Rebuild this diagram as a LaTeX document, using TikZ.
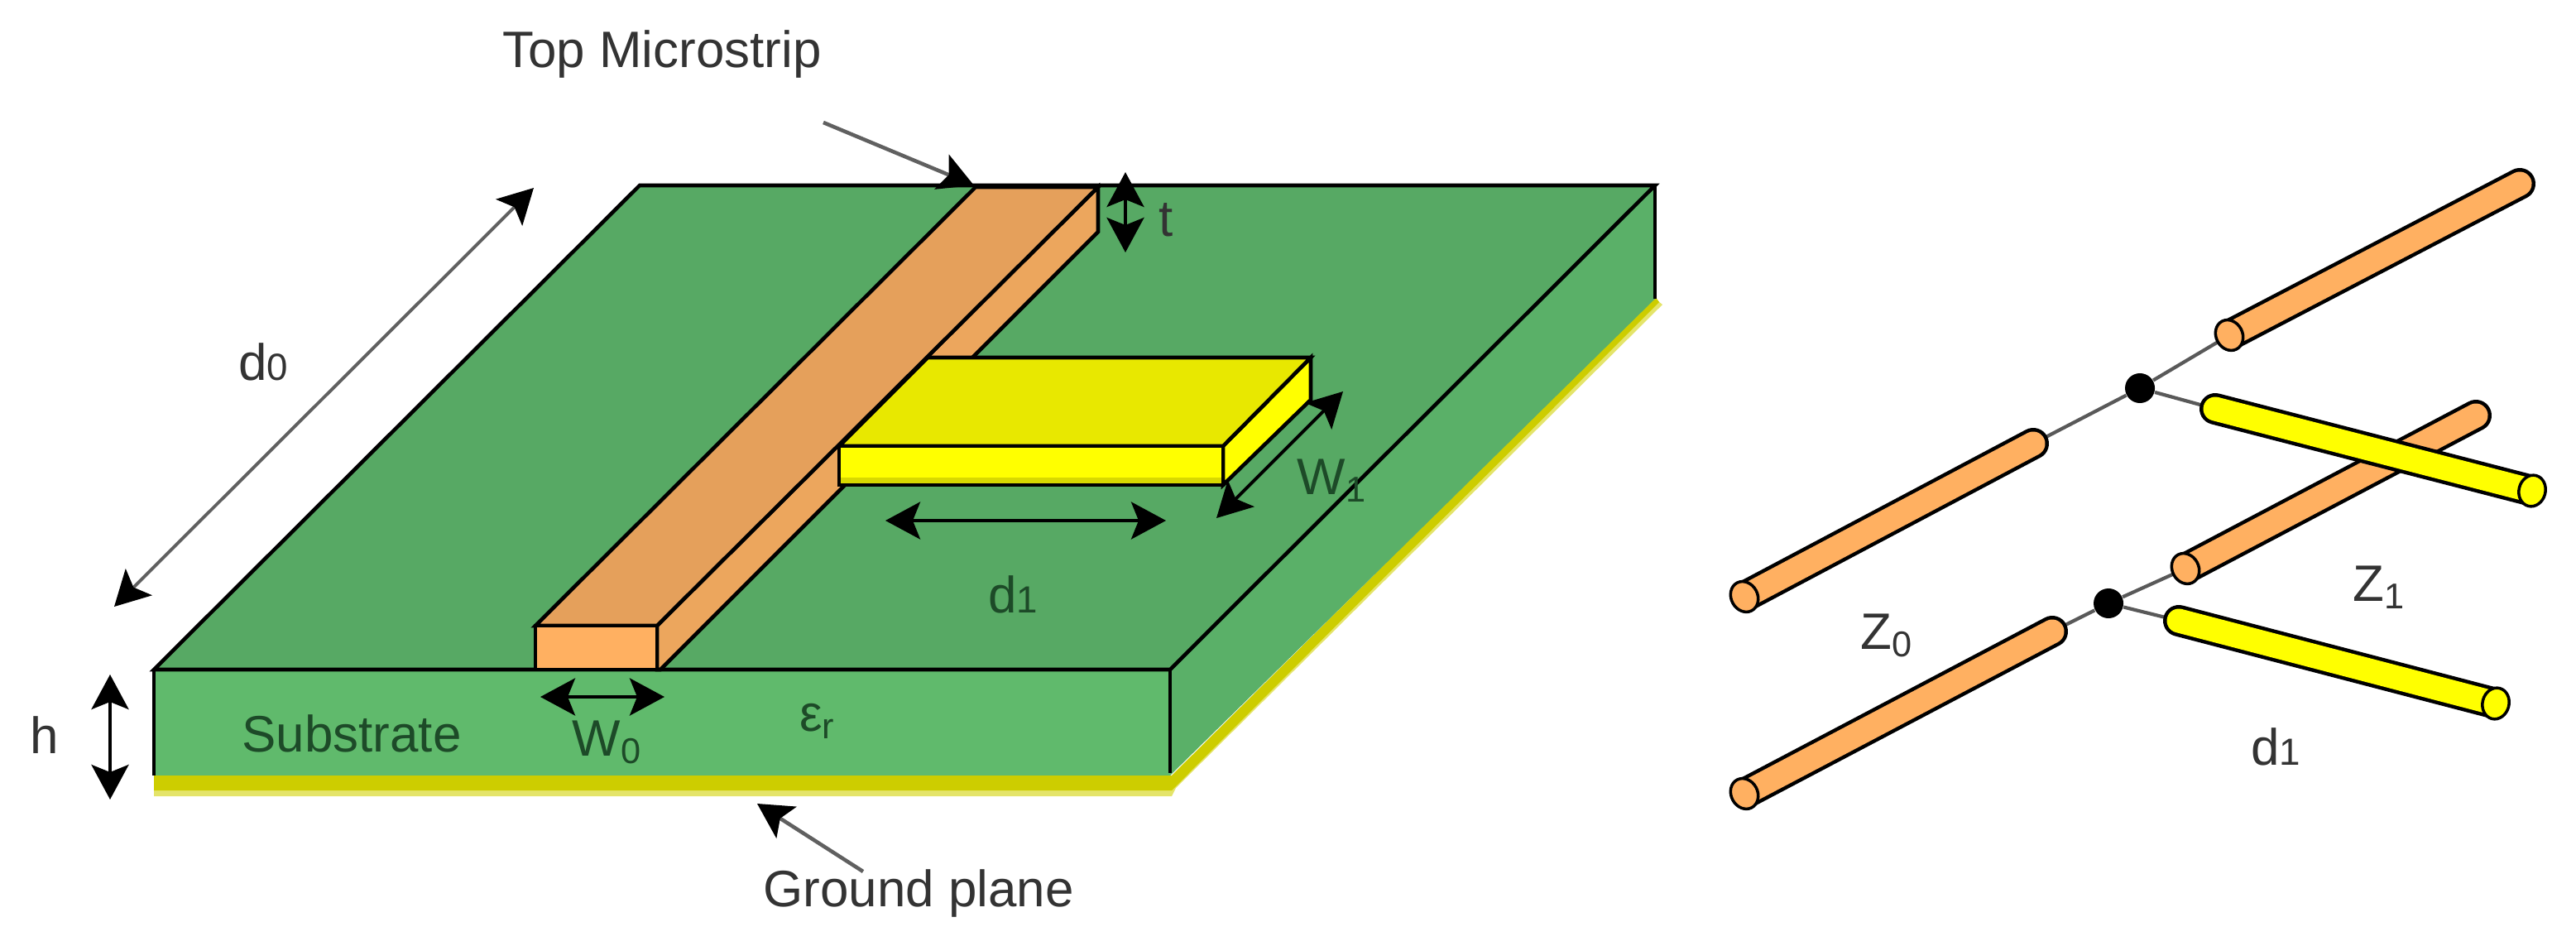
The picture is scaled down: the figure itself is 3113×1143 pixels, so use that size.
\documentclass[tikz,border=0pt]{standalone}
\usepackage{fontspec}
\setmainfont{Liberation Sans}
\usetikzlibrary{arrows.meta,positioning,shapes.geometric}

\definecolor{boardtop}{HTML}{57A964}
\definecolor{boardfront}{HTML}{60BA6C}
\definecolor{boardside}{HTML}{5AB068}
\definecolor{groundcol}{HTML}{CDCD00}
\definecolor{groundpale}{HTML}{E4E46A}
\definecolor{striptop}{HTML}{E5A05B}
\definecolor{stripfront}{HTML}{FFB061}
\definecolor{stripside}{HTML}{ECA65D}
\definecolor{patchtop}{HTML}{E8E800}
\definecolor{patchfront}{HTML}{FFFF00}
\definecolor{patchdark}{HTML}{D8D800}
\definecolor{boardtext}{HTML}{1D4A28}
\definecolor{plaintext}{HTML}{333333}

\tikzset{
  lbl/.style={font=\fontsize{17.6}{20}\selectfont, text=plaintext, inner sep=0pt},
  lblgreen/.style={lbl, text=boardtext},
  solid3d/.style={draw=black, line width=1.3pt, line join=miter},
  dimarrow/.style={{Stealth[length=.42cm,width=.45cm,inset=.09cm,black]}-{Stealth[length=.42cm,width=.45cm,inset=.09cm,black]}, line width=1.1pt, black},
  leader/.style={-{Stealth[length=.42cm,width=.45cm,inset=.09cm,black]}, line width=1.3pt, draw=gray!75!black},
  wire/.style={draw=gray!70!black, line width=1.2pt},
  junction/.style={circle, fill=black, minimum size=.36cm, inner sep=0pt},
  tubecap/.style={ellipse, draw=black, line width=1pt, minimum width=.32cm, minimum height=.38cm, inner sep=0pt},
}

% name, cap end, far end, colour, angle
\newcommand{\tube}[5]{
  \draw[black, line width=.38cm, line cap=round, shorten <=.04cm] (#2) -- (#3);
  \draw[#4, line width=.29cm, line cap=round, shorten <=.04cm] (#2) -- (#3);
  \node[tubecap, fill=#4, rotate=#5] (#1) at (#2) {};
}
\newcommand{\lowdigit}[1]{{\fontsize{13}{13}\selectfont #1}}

\begin{document}
\begin{tikzpicture}[x=.01cm,y=-.01cm]
\useasboundingbox (0,0) rectangle (3113,1143);

% ground plane
\fill[groundpale] (186,937) -- (1416,937) -- (2000,361) -- (2009,368) -- (1421,952) -- (1416,962) -- (186,962) -- cycle;
\fill[groundcol] (186,937) -- (1416,937) -- (2000,358) -- (2005,365) -- (1416,955) -- (186,955) -- cycle;

% substrate
\fill[boardside] (1414,809) -- (2000,224) -- (2000,361) -- (1414,937) -- cycle;
\fill[boardfront] (186,809) rectangle (1414,937);
\filldraw[solid3d, fill=boardtop] (773,224) -- (2000,224) -- (1414,809) -- (186,809) -- cycle;
\draw[solid3d] (186,809) -- (186,937);
\draw[solid3d] (1414,809) -- (1414,934);
\draw[solid3d] (2000,224) -- (2000,361);

% top microstrip
\filldraw[solid3d, fill=stripside] (794,756) -- (1327,226) -- (1327,280) -- (798,809) -- (794,809) -- cycle;
\filldraw[solid3d, fill=striptop] (647,756) -- (1179,226) -- (1327,226) -- (794,756) -- cycle;
\filldraw[solid3d, fill=stripfront] (647,756) rectangle (794,809);

% yellow stub
\filldraw[solid3d, fill=patchfront] (1478,539) -- (1584,432) -- (1584,483) -- (1478,586) -- cycle;
\filldraw[solid3d, fill=patchtop] (1014,539) -- (1121,432) -- (1584,432) -- (1478,539) -- cycle;
\fill[patchfront] (1014,539) rectangle (1478,586);
\fill[patchdark] (1014,577) rectangle (1478,586);
\draw[solid3d] (1014,539) rectangle (1478,586);

% dimension ends
\coordinate (d0a) at (645,227);
\coordinate (d0b) at (138,733);
\coordinate (topa) at (995,148);
\coordinate (topb) at (1177,224);
\coordinate (ta) at (1360,208);
\coordinate (tb) at (1360,305);
\coordinate (ha) at (133,815);
\coordinate (hb) at (133,966);
\coordinate (w0a) at (653,842);
\coordinate (w0b) at (803,842);
\coordinate (d1a) at (1070,629);
\coordinate (d1b) at (1409,629);
\coordinate (w1a) at (1623,473);
\coordinate (w1b) at (1470,626);
\coordinate (gnda) at (1043,1053);
\coordinate (gndb) at (915,971);

\draw[dimarrow, draw=gray!75!black] (d0a) -- (d0b);
\draw[leader] (topa) -- (topb);
\draw[dimarrow] (ta) -- (tb);
\draw[dimarrow] (ha) -- (hb);
\draw[dimarrow] (w0a) -- (w0b);
\draw[dimarrow] (d1a) -- (d1b);
\draw[dimarrow] (w1a) -- (w1b);
\draw[leader] (gnda) -- (gndb);

% labels, left part
\node[lbl] (toplbl) at (800,66) {Top Microstrip};
\node[lbl] (d0lbl) at (318,437) {d\lowdigit{0}};
\node[lbl] (tlbl) at (1409,266) {t};
\node[lbl] (hlbl) at (54,888) {h};
\node[lblgreen] (sublbl) at (425,886) {Substrate};
\node[lblgreen] (w0lbl) at (734,897) {W$_{\mathrm{0}}$};
\node[lblgreen] (erlbl) at (988,871) {ε$_{\mathrm{r}}$};
\node[lblgreen] (d1lbl) at (1224,718) {d\lowdigit{1}};
\node[lblgreen] (w1lbl) at (1610,581) {W$_{\mathrm{1}}$};
\node[lbl] (gndlbl) at (1110,1079) {Ground plane};

% transmission line model
\node[junction] (jn1) at (2586,469) {};
\node[junction] (jn2) at (2548,729) {};

\coordinate (a0) at (2694,405);
\coordinate (a1) at (3045,222);
\coordinate (b0) at (2108,721);
\coordinate (b1) at (2457,536);
\coordinate (c0) at (2641,687);
\coordinate (c1) at (2992,502);
\coordinate (e0) at (2108,959);
\coordinate (e1) at (2480,763);
\coordinate (f0) at (3060,593);
\coordinate (f1) at (2677,494);
\coordinate (g0) at (3016,850);
\coordinate (g1) at (2633,750);

\draw[wire] (b1) -- (jn1);
\draw[wire] (jn1) -- (a0);
\draw[wire] (jn1) -- (f1);
\draw[wire] (e1) -- (jn2);
\draw[wire] (jn2) -- (c0);
\draw[wire] (jn2) -- (g1);

\tube{tubea}{a0}{a1}{stripfront}{27.5}
\tube{tubeb}{b0}{b1}{stripfront}{27.8}
\tube{tubec}{c0}{c1}{stripfront}{27.8}
\tube{tubee}{e0}{e1}{stripfront}{27.8}
\tube{tubef}{f0}{f1}{patchfront}{-14.6}
\tube{tubeg}{g0}{g1}{patchfront}{-14.6}

\node[lbl] (z0lbl) at (2280,768) {Z$_{\mathrm{0}}$};
\node[lbl] (z1lbl) at (2875,710) {Z$_{\mathrm{1}}$};
\node[lbl] (d1rlbl) at (2750,902) {d\lowdigit{1}};
\end{tikzpicture}
\end{document}
